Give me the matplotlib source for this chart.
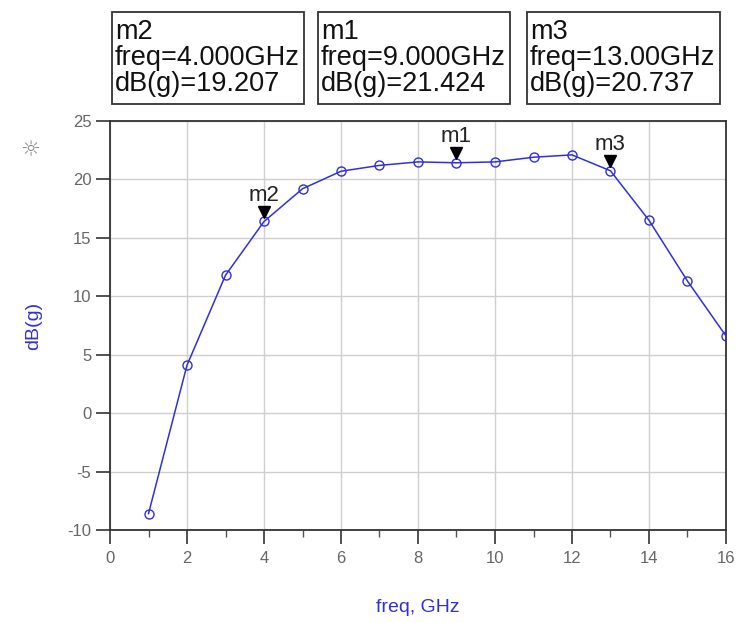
import numpy as np
import matplotlib.pyplot as plt
from matplotlib.patches import Rectangle
from matplotlib.ticker import MultipleLocator

# gain sweep, dB(g) versus frequency in GHz
freq_ghz = [1, 2, 3, 4, 5, 6, 7, 8, 9, 10, 11, 12, 13, 14, 15, 16]
gain_db = [-8.6, 4.1, 11.8, 16.4, 19.2, 20.7, 21.2, 21.5, 21.424, 21.5,
           21.9, 22.1, 20.737, 16.5, 11.3, 6.6]

# markers placed on the trace
marker_names = ["m2", "m1", "m3"]
marker_freqs = [4, 9, 13]
marker_texts = [
    "m2\nfreq=4.000GHz\ndB(g)=19.207",
    "m1\nfreq=9.000GHz\ndB(g)=21.424",
    "m3\nfreq=13.00GHz\ndB(g)=20.737",
]

BLUE = "#3030da"
W, H = 741, 623
plt.rcParams["font.family"] = ["Liberation Sans", "DejaVu Sans"]
plt.rcParams["axes.unicode_minus"] = False

fig = plt.figure(figsize=(W / 100, H / 100), dpi=100)
ax = fig.add_axes([110 / W, 1 - 530 / H, 616 / W, 409 / H])

ax.plot(freq_ghz, gain_db, color=BLUE, lw=1.1, marker="o", ms=6.5,
        mfc="none", mec=BLUE, mew=1.0, zorder=3)

# marker triangles + names sitting just above the trace
for name, f in zip(marker_names, marker_freqs):
    g = gain_db[freq_ghz.index(f)]
    ax.plot([f], [g + 0.8], marker="v", color="black", ms=8, zorder=4)
    ax.text(f, g + 1.75, name, ha="center", va="baseline", fontsize=16,
            color="#222222", zorder=4)

ax.set_xlim(0, 16)
ax.set_ylim(-10, 25)
ax.xaxis.set_major_locator(MultipleLocator(2))
ax.xaxis.set_minor_locator(MultipleLocator(1))
ax.yaxis.set_major_locator(MultipleLocator(5))

ax.grid(True, which="major", color="#cfcfcf", lw=1.0)
ax.set_axisbelow(True)
for s in ax.spines.values():
    s.set_color("#333333")
    s.set_linewidth(1.3)

ax.tick_params(axis="both", which="major", direction="out", length=10,
               width=1.2, color="#333333", labelsize=12, labelcolor="#666666")
ax.tick_params(axis="x", which="minor", direction="out", length=5,
               width=1.0, color="#555555")
ax.tick_params(axis="x", pad=5)

ax.set_xlabel("freq, GHz", color=BLUE, fontsize=14, labelpad=24)
ax.set_ylabel("dB(g)", color=BLUE, fontsize=14, labelpad=18)

# small settings glyph beside the y axis
fig.text(30 / W, 1 - 150 / H, "\u263c", ha="center", va="center",
         fontsize=16, color="#8a8a8a", family="DejaVu Sans")

# marker readout boxes across the top
box_left = [112, 318, 527]
box_right = [304, 510, 720]
for x0, x1, txt in zip(box_left, box_right, marker_texts):
    fig.patches.append(Rectangle((x0 / W, 1 - 104 / H), (x1 - x0) / W,
                                 92 / H, transform=fig.transFigure,
                                 fc="white", ec="#333333", lw=1.3))
    fig.text((x0 + 3) / W, 1 - 58 / H, txt, ha="left", va="center",
             fontsize=19.5, linespacing=1.02, color="#111111")

fig.savefig("out.png", dpi=100)
